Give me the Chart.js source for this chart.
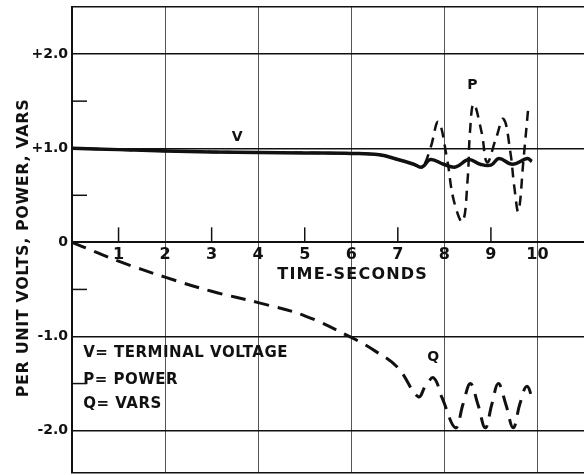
<!DOCTYPE html>
<html>
<head>
<meta charset="utf-8">
<script src="https://cdn.jsdelivr.net/npm/chart.js@4.4.1/dist/chart.umd.min.js"></script>
<style>
    html, body { margin: 0; padding: 0; background: #fff; }
    canvas { display: block; }
</style>
</head>
<body>
<canvas id="transientChart" width="584" height="475"></canvas>
<script>
/* ============ DATA ============ */

// V = terminal voltage (solid)
const timeV = [0, 1, 2, 3, 4, 5, 6, 6.6, 7.0, 7.34, 7.52, 7.7, 7.98, 8.24, 8.52, 8.77, 9.0, 9.17, 9.46, 9.78, 9.88];
const voltage = [1.0, 0.985, 0.97, 0.96, 0.955, 0.95, 0.945, 0.93, 0.88, 0.83, 0.80, 0.88, 0.83, 0.80, 0.88, 0.83, 0.82, 0.89, 0.83, 0.89, 0.86];

// P = power (dashed)
const timeP = [0, 2, 4, 6, 6.6, 7.0, 7.35, 7.52, 7.7, 7.87, 8.05, 8.2, 8.39, 8.5, 8.55, 8.63, 8.8, 8.92, 9.1, 9.27, 9.42, 9.5, 9.59, 9.7, 9.81];
const power = [1.0, 0.97, 0.955, 0.945, 0.93, 0.88, 0.83, 0.80, 1.0, 1.28, 0.91, 0.45, 0.22, 0.67, 1.17, 1.47, 1.17, 0.85, 1.09, 1.31, 0.95, 0.6, 0.33, 0.88, 1.47];

// Q = vars (dashed)
const timeQ = [0, 0.5, 1, 2, 3, 4, 5, 6, 6.5, 7, 7.44, 7.6, 7.77, 7.95, 8.24, 8.4, 8.56, 8.72, 8.88, 9.02, 9.16, 9.32, 9.48, 9.62, 9.77, 9.91];
const vars = [0, -0.1, -0.2, -0.37, -0.52, -0.64, -0.78, -1.01, -1.15, -1.33, -1.64, -1.52, -1.44, -1.65, -1.97, -1.72, -1.5, -1.72, -1.97, -1.72, -1.5, -1.72, -1.97, -1.72, -1.53, -1.69];

// axis labels
const xTickLabels = [1, 2, 3, 4, 5, 6, 7, 8, 9, 10];
const xMinorTicks = [1, 3, 5, 7, 9];
const yLabelValues = [2, 1, 0, -1, -2];
const yLabelTexts = ["+2.0", "+1.0", "0", "-1.0", "-2.0"];
const yMinorTicks = [1.5, 0.5, -0.5, -1.5];

/* ============ TEXT ON THE PAPER ============ */

const ink = "#111";
const letterFont = "'DejaVu Sans', sans-serif";

const notes = [
    { text: "V", t: 3.55, v: 1.11, size: 14, align: "center" },
    { text: "P", t: 8.6, v: 1.67, size: 14, align: "center" },
    { text: "Q", t: 7.76, v: -1.22, size: 14, align: "center" },
    { text: "TIME-SECONDS", t: 4.41, v: -0.35, size: 16, align: "left", spacing: "1.2px" },
    { text: "V= TERMINAL VOLTAGE", t: 0.24, v: -1.18, size: 15, align: "left", spacing: "0.5px" },
    { text: "P= POWER", t: 0.24, v: -1.46, size: 15, align: "left", spacing: "0.5px" },
    { text: "Q= VARS", t: 0.24, v: -1.72, size: 15, align: "left", spacing: "0.5px" }
];

const paperMarks = {
    id: "paperMarks",
    afterDatasetsDraw(chart) {
        const { ctx, chartArea } = chart;
        const x = chart.scales.x;
        const y = chart.scales.y;
        ctx.save();

        // short inner ticks
        ctx.strokeStyle = ink;
        ctx.lineWidth = 1.5;
        const y0 = y.getPixelForValue(0);
        xMinorTicks.forEach(t => {
            const px = x.getPixelForValue(t);
            ctx.beginPath();
            ctx.moveTo(px, y0);
            ctx.lineTo(px, y0 - 15);
            ctx.stroke();
        });
        yMinorTicks.forEach(v => {
            const py = y.getPixelForValue(v);
            ctx.beginPath();
            ctx.moveTo(chartArea.left, py);
            ctx.lineTo(chartArea.left + 15, py);
            ctx.stroke();
        });

        // labels
        ctx.fillStyle = ink;
        ctx.textBaseline = "middle";
        notes.forEach(n => {
            ctx.font = `bold ${n.size}px ${letterFont}`;
            ctx.letterSpacing = n.spacing || "0px";
            ctx.textAlign = n.align;
            ctx.fillText(n.text, x.getPixelForValue(n.t), y.getPixelForValue(n.v));
        });

        // y axis title
        ctx.translate(24, 248);
        ctx.rotate(-Math.PI / 2);
        ctx.font = `bold 16px ${letterFont}`;
        ctx.letterSpacing = "0.6px";
        ctx.textAlign = "center";
        ctx.fillText("PER UNIT VOLTS, POWER, VARS", 0, 0);
        ctx.restore();
    }
};

/* ============ CHART ============ */

function toPoints(times, values) {
    return times.map((t, i) => ({ x: t, y: values[i] }));
}

function initTransientChart() {
    const canvas = document.getElementById("transientChart");
    new Chart(canvas, {
        type: "line",
        data: {
            datasets: [
                {
                    label: "V",
                    data: toPoints(timeV, voltage),
                    borderColor: ink,
                    borderWidth: 3.5,
                    tension: 0.4,
                    pointRadius: 0
                },
                {
                    label: "P",
                    data: toPoints(timeP, power),
                    borderColor: ink,
                    borderWidth: 2.5,
                    borderDash: [10, 7],
                    tension: 0.4,
                    pointRadius: 0
                },
                {
                    label: "Q",
                    data: toPoints(timeQ, vars),
                    borderColor: ink,
                    borderWidth: 3,
                    borderDash: [15, 9],
                    tension: 0.4,
                    pointRadius: 0
                }
            ]
        },
        options: {
            responsive: false,
            animation: false,
            layout: { padding: { top: 7, bottom: 2, left: 0, right: 0 } },
            plugins: {
                legend: { display: false },
                tooltip: { enabled: false }
            },
            scales: {
                x: {
                    type: "linear",
                    position: { y: 0 },
                    min: 0,
                    max: 11,
                    ticks: {
                        stepSize: 1,
                        autoSkip: false,
                        maxRotation: 0,
                        padding: 3,
                        color: ink,
                        font: { family: letterFont, weight: "bold", size: 16 },
                        callback: v => xTickLabels.includes(v) ? String(v) : ""
                    },
                    grid: {
                        drawTicks: false,
                        color: c => (c.tick && c.tick.value % 2 === 0) ? "#555" : "rgba(0,0,0,0)",
                        lineWidth: 1
                    },
                    border: { color: ink, width: 2 },
                    afterFit: s => { s.paddingLeft = 0; s.paddingRight = 0; }
                },
                y: {
                    min: -2.45,
                    max: 2.5,
                    ticks: {
                        stepSize: 0.5,
                        autoSkip: false,
                        padding: 4,
                        color: ink,
                        font: { family: letterFont, weight: "bold", size: 14 },
                        callback: v => {
                            const i = yLabelValues.indexOf(v);
                            return i >= 0 ? yLabelTexts[i] : "";
                        }
                    },
                    grid: {
                        drawTicks: false,
                        color: c => {
                            const v = c.tick ? c.tick.value : 0.5;
                            return (Number.isInteger(v) || v === 2.5 || v === -2.45) ? ink : "rgba(0,0,0,0)";
                        },
                        lineWidth: c => (c.tick && c.tick.value === 0) ? 2 : 1.4
                    },
                    border: { color: ink, width: 2 },
                    afterFit: s => {
                        s.width = 72;
                        s.paddingTop = 0;
                        s.paddingBottom = 0;
                    }
                }
            }
        },
        plugins: [paperMarks]
    });
}

document.addEventListener("DOMContentLoaded", initTransientChart);
</script>
</body>
</html>
